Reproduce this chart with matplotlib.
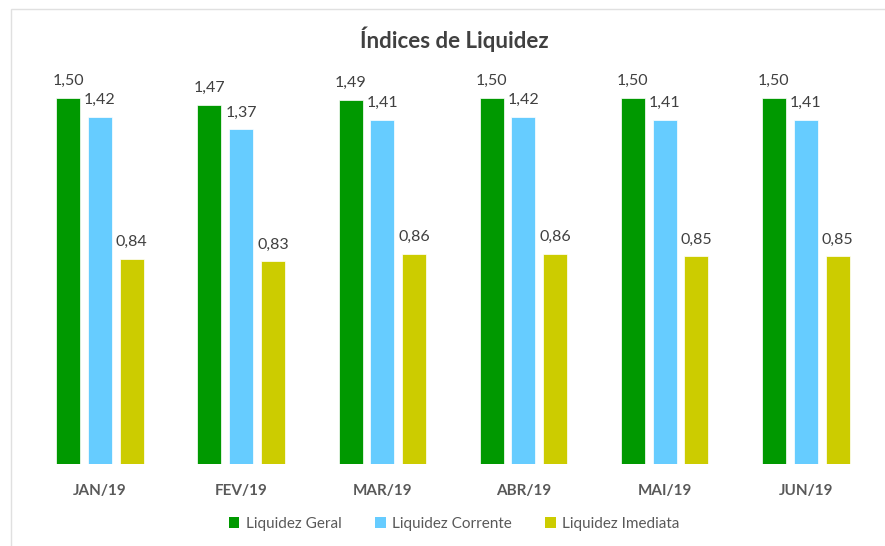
import numpy as np
import matplotlib
matplotlib.use("Agg")
import matplotlib.pyplot as plt
from matplotlib.patches import Rectangle, Patch

months = ["JAN/19", "FEV/19", "MAR/19", "ABR/19", "MAI/19", "JUN/19"]
geral = [1.50, 1.47, 1.49, 1.50, 1.50, 1.50]
corrente = [1.42, 1.37, 1.41, 1.42, 1.41, 1.41]
imediata = [0.84, 0.83, 0.86, 0.86, 0.85, 0.85]

series = [
    ("Liquidez Geral", geral, "#009900"),
    ("Liquidez Corrente", corrente, "#66CCFF"),
    ("Liquidez Imediata", imediata, "#CCCC00"),
]

plt.rcParams["font.family"] = ["Lato", "DejaVu Sans"]
text_color = "#404040"

fig = plt.figure(figsize=(8.85, 5.46), dpi=100)
# light frame around the chart area
fig.patches.append(Rectangle((11 / 885, -0.1), 2, 1.1 - 9 / 546, transform=fig.transFigure,
                             facecolor="none", edgecolor="#E0E0E0", linewidth=1, zorder=-1))

ax = fig.add_axes([0.0332, 0.150, 0.957, 0.716])
x = np.arange(len(months))
offset = 0.225
width = 0.17

for i, (name, vals, color) in enumerate(series):
    pos = x + (i - 1) * offset
    ax.bar(pos, vals, width=width, color=color, label=name, edgecolor="white", linewidth=0.5)
    for px, v in zip(pos, vals):
        ax.text(px, v + 0.04, f"{v:.2f}".replace(".", ","), ha="center", va="bottom",
                fontsize=11.5, color=text_color)

ax.set_xlim(-0.5, len(months) - 0.5)
ax.set_ylim(0, 1.6)
ax.set_xticks(x)
ax.set_xticklabels(months, fontsize=11, fontweight="bold", color="#595959")
ax.tick_params(axis="x", length=0, pad=14)
ax.set_yticks([])
for s in ax.spines.values():
    s.set_visible(False)
ax.patch.set_visible(False)

fig.text(0.513, 0.928, "Índices de Liquidez", ha="center", va="center",
         fontsize=16, fontweight="bold", color=text_color)

handles = [Patch(facecolor=c, label=n) for n, _, c in series]
fig.legend(handles=handles, loc="center", bbox_to_anchor=(0.513, 0.040), ncol=3,
           frameon=False, fontsize=11, handlelength=0.7, handleheight=0.7,
           handletextpad=0.4, columnspacing=2.2, labelcolor="#595959")

fig.savefig("out.png", dpi=100, facecolor="white")
